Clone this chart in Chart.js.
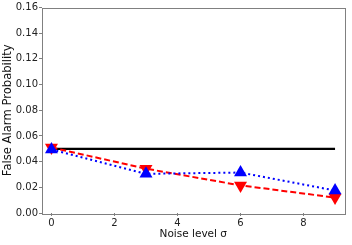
<!DOCTYPE html>
<html><head><meta charset="utf-8">
<script src="https://cdn.jsdelivr.net/npm/chart.js@4.4.0/dist/chart.umd.min.js"></script>
<style>html,body{margin:0;padding:0;background:#fff}#wrap{width:352px;height:245px}</style>
</head><body><div id="wrap"><canvas id="c"></canvas></div>
<script>
const noiseLevels = [0, 3, 6, 9];
const thresholdValues = [0.05, 0.05, 0.05, 0.05];
const redSeries = [0.051, 0.0345, 0.0215, 0.012];
const blueSeries = [0.0495, 0.0305, 0.0315, 0.0175];
const xTicks = [0, 2, 4, 6, 8];
const yTicks = [0, 0.02, 0.04, 0.06, 0.08, 0.10, 0.12, 0.14, 0.16];

const pts = (ys) => noiseLevels.map((x, i) => ({x, y: ys[i]}));
const FONT = "'DejaVu Sans', sans-serif";

const frame = {
  id: 'frame',
  afterDatasetsDraw(chart) {
    const a = chart.chartArea, ctx = chart.ctx;
    ctx.save();
    ctx.strokeStyle = '#808080';
    ctx.lineWidth = 1;
    ctx.strokeRect(Math.round(a.left) + 0.5, Math.round(a.top) + 0.5, Math.round(a.right - a.left), Math.round(a.bottom - a.top));
    ctx.restore();
  }
};

new Chart(document.getElementById('c'), {
  type: 'line',
  data: {
    datasets: [
      { data: pts(thresholdValues), borderColor: '#000', borderWidth: 2.2, pointRadius: 0, order: 3 },
      { data: pts(redSeries), borderColor: '#ff0000', backgroundColor: '#ff0000', borderWidth: 2,
        borderDash: [6, 3], pointStyle: 'triangle', rotation: 180, pointRadius: 7.5, pointBorderWidth: 0, order: 2 },
      { data: pts(blueSeries), borderColor: '#0000ff', backgroundColor: '#0000ff', borderWidth: 2,
        borderDash: [2, 3], pointStyle: 'triangle', pointRadius: 7.5, pointBorderWidth: 0, order: 1 }
    ]
  },
  options: {
    responsive: true, maintainAspectRatio: false, animation: false,
    layout: { padding: { top: 7, right: 7, left: 0, bottom: 0 } },
    plugins: { legend: { display: false }, tooltip: { enabled: false } },
    scales: {
      x: {
        type: 'linear', min: -0.3, max: 9.3,
        afterBuildTicks: (s) => { s.ticks = xTicks.map(v => ({value: v})); },
        afterFit: (s) => { s.height = 32; },
        grid: { display: true, drawOnChartArea: false, drawTicks: true, tickLength: 3, color: '#808080' },
        border: { display: false },
        ticks: { color: '#222', font: { family: FONT, size: 10 }, padding: 1, maxRotation: 0 },
        title: { display: true, text: 'Noise level σ', color: '#111', font: { family: FONT, size: 10.5 }, padding: { top: 0, bottom: 4 } }
      },
      y: {
        min: 0, max: 0.16,
        afterBuildTicks: (s) => { s.ticks = yTicks.map(v => ({value: v})); },
        afterFit: (s) => { s.width = 42; },
        grid: { display: true, drawOnChartArea: false, drawTicks: true, tickLength: 3, color: '#808080' },
        border: { display: false },
        ticks: { color: '#222', font: { family: FONT, size: 10 }, padding: 1, callback: (v) => v.toFixed(2) },
        title: { display: true, text: 'False Alarm Probability', color: '#111', font: { family: FONT, size: 11.6 }, padding: { top: 1, bottom: 0 } }
      }
    }
  },
  plugins: [frame]
});
</script></body></html>
